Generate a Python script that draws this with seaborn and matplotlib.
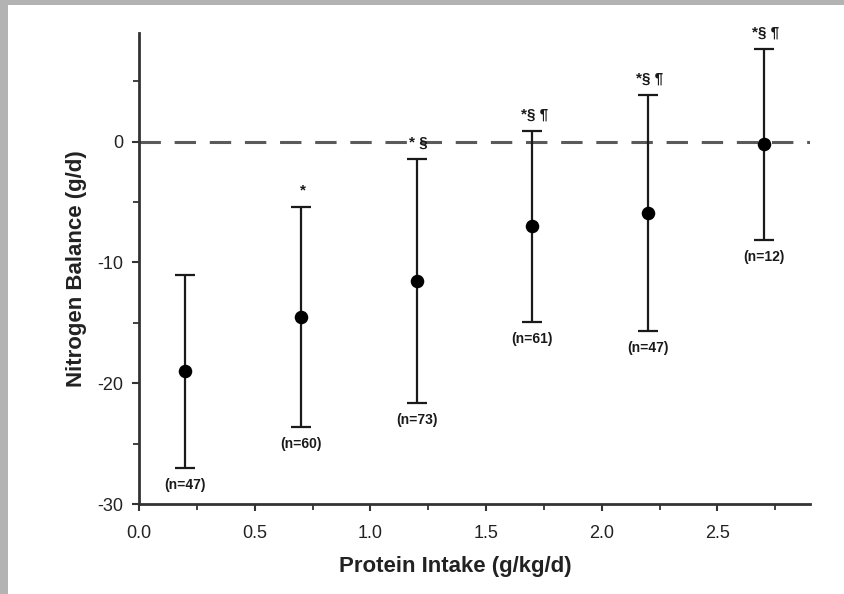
import matplotlib
matplotlib.use("Agg")
import matplotlib.pyplot as plt
from matplotlib.patches import Rectangle
from matplotlib.ticker import MultipleLocator, FormatStrFormatter
import seaborn as sns
import pandas as pd

# Protein intake groups (g/kg/d) and nitrogen balance (g/d), mean and SD
protein_intake = [0.2, 0.7, 1.2, 1.7, 2.2, 2.7]
nitrogen_mean = [-19.0, -14.5, -11.5, -7.0, -5.9, -0.2]
nitrogen_sd = [8.0, 9.1, 10.1, 7.9, 9.8, 7.9]
group_n = ["(n=47)", "(n=60)", "(n=73)", "(n=61)", "(n=47)", "(n=12)"]
significance = ["", "*", "* §", "*§ ¶", "*§ ¶", "*§ ¶"]

df = pd.DataFrame({
    "intake": protein_intake,
    "balance": nitrogen_mean,
    "sd": nitrogen_sd,
    "n": group_n,
    "sig": significance,
})

sns.set_theme(style="ticks")
plt.rcParams["font.family"] = ["Liberation Sans", "DejaVu Sans"]
plt.rcParams["axes.unicode_minus"] = False

fig = plt.figure(figsize=(8.45, 5.94), dpi=100)
fig.patch.set_facecolor("white")
# grey frame strips on the left and top edges
fig.add_artist(Rectangle((0, 0), 8 / 845, 1, transform=fig.transFigure,
                         facecolor="#b3b3b3", edgecolor="none", zorder=0))
fig.add_artist(Rectangle((0, 1 - 5 / 594), 1, 5 / 594, transform=fig.transFigure,
                         facecolor="#b3b3b3", edgecolor="none", zorder=0))

ax = fig.add_axes([139 / 845, 1 - 504 / 594, (810 - 139) / 845, (504 - 33) / 594])

ax.axhline(0, color="#5a5a5a", lw=2.2, dashes=(7, 4.5), zorder=1)

ax.errorbar(df["intake"], df["balance"], yerr=df["sd"], fmt="none",
            ecolor="#1a1a1a", elinewidth=1.6, capsize=7, capthick=1.6, zorder=2)
sns.scatterplot(data=df, x="intake", y="balance", ax=ax, color="black",
                s=95, edgecolor="black", linewidth=0, zorder=3, legend=False)

for x, m, s, n, sig in zip(df["intake"], df["balance"], df["sd"], df["n"], df["sig"]):
    ax.annotate(n, (x, m - s), xytext=(0, -17), textcoords="offset pixels",
                ha="center", va="center", fontsize=10, fontweight="bold",
                color="#1a1a1a")
    if sig:
        ax.annotate(sig, (x, m + s), xytext=(2, 16), textcoords="offset pixels",
                    ha="center", va="center", fontsize=11, fontweight="bold",
                    color="#1a1a1a")

ax.set_xlim(0, 2.9)
ax.set_ylim(-30, 9)
ax.xaxis.set_major_locator(MultipleLocator(0.5))
ax.xaxis.set_minor_locator(MultipleLocator(0.25))
ax.xaxis.set_major_formatter(FormatStrFormatter("%.1f"))
ax.yaxis.set_major_locator(MultipleLocator(10))
ax.yaxis.set_minor_locator(MultipleLocator(5))

for side in ["top", "right"]:
    ax.spines[side].set_visible(False)
for side in ["left", "bottom"]:
    ax.spines[side].set_linewidth(2)
    ax.spines[side].set_color("#333333")

ax.tick_params(axis="both", which="major", length=5, width=1.5, color="#333333",
               labelsize=13, labelcolor="#222222")
ax.tick_params(axis="x", which="major", pad=10)
ax.tick_params(axis="y", which="major", pad=6)
ax.tick_params(axis="both", which="minor", length=4, width=1.3, color="#333333")

ax.set_xlabel("Protein Intake (g/kg/d)", fontsize=16, fontweight="bold",
              color="#222222", labelpad=10, x=0.471)
ax.set_ylabel("Nitrogen Balance (g/d)", fontsize=16, fontweight="bold",
              color="#222222", labelpad=8)

fig.savefig("out.png", dpi=100)
